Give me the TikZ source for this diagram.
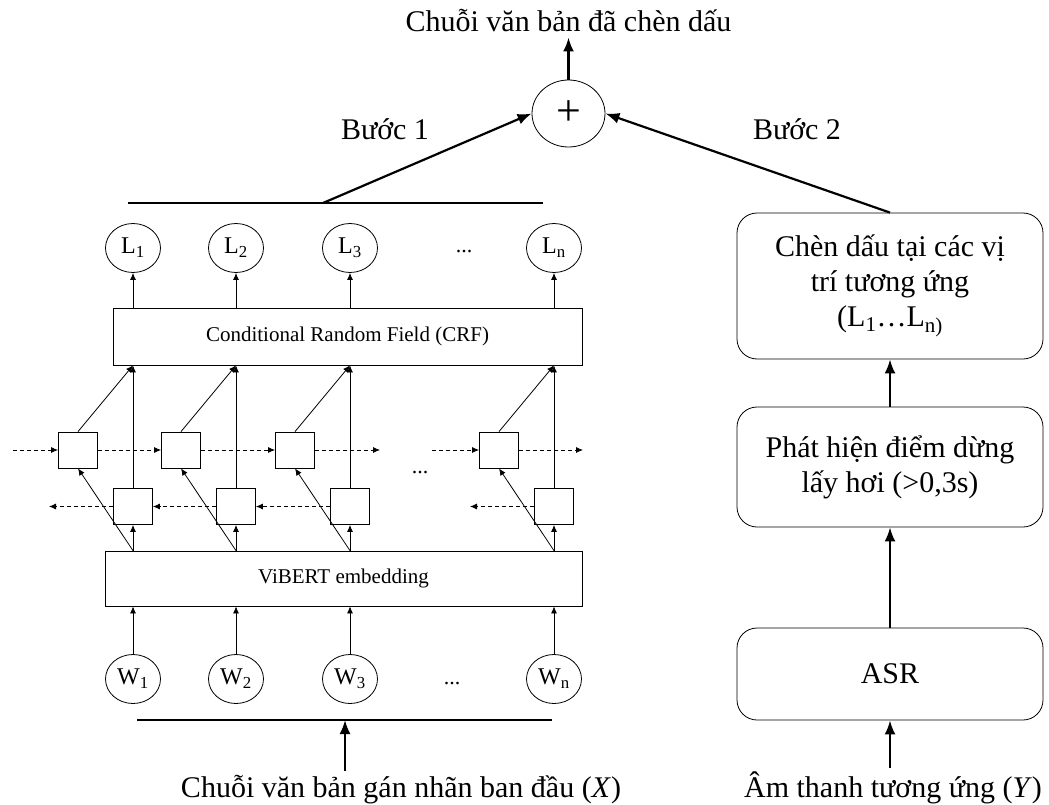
\documentclass[tikz,border=0pt]{standalone}
\usepackage{fontspec}
\setmainfont{Liberation Serif}
\usetikzlibrary{arrows, arrows.meta, shapes.geometric, positioning}

\begin{document}
\begin{tikzpicture}[x=1pt, y=-1pt,
				>={Latex[length=7pt,width=6pt]},   % small arrow tips
				font=\fontsize{30}{35}\selectfont,
				lab/.style={draw, ellipse, minimum width=55pt, minimum height=49pt, inner sep=0pt, line width=0.8pt, font=\fontsize{24}{26}\selectfont},
				cell/.style={draw, minimum width=39pt, minimum height=36pt, inner sep=0pt, line width=0.8pt},
				layer/.style={draw, inner sep=0pt, line width=0.8pt, font=\fontsize{21}{24}\selectfont},
				stepbox/.style={draw, rounded corners=20pt, minimum width=306pt, align=center, line width=0.8pt},
				wire/.style={line width=0.8pt, ->},
				rnn/.style={line width=0.8pt, ->, dash pattern=on 4pt off 3pt},
				big/.style={line width=2.2pt, -{Latex[length=14pt,width=11pt]}}]
				\useasboundingbox (0,0) rectangle (1049,805);
				% Ket qua
				\node[anchor=base, inner sep=5pt] (out) at (568.5,32) {Chuỗi văn bản đã chèn dấu};
				\node[draw, ellipse, minimum width=73pt, minimum height=67pt, inner sep=0pt, line width=0.8pt, font=\fontsize{44}{44}\selectfont] (sum) at (568.5,113.5) {+};
				\draw[big] (sum.north) -- (out.south);
				\node[anchor=base] (b1) at (385,140) {Bước 1};
				\node[anchor=base] (b2) at (797,140) {Bước 2};
				% Buoc 1: ViBERT + BiLSTM + CRF
				\coordinate (t0) at (128,203);
				\coordinate (t1) at (543,203);
				\coordinate (t2) at (323,203);
				\draw[line width=2pt] (t0) -- (t1);
				\draw[big] (t2) -- (sum.west);
				\node[layer, minimum width=469pt, minimum height=57pt] (crf) at (347.5,336.5) {Conditional Random Field (CRF)};
				\node[layer, minimum width=477pt, minimum height=55pt] (emb) at (343.5,578.5) {ViBERT embedding};
				\foreach \i/\x in {1/133,2/236,3/350,n/554}{
					\node[lab] (L\i) at (\x,248) {L\textsubscript{\i}};
					\node[lab] (W\i) at (\x,679) {W\textsubscript{\i}};
					\node[cell] (fw\i) at (\x-55,450) {};
					\node[cell] (bw\i) at (\x,506.5) {};
					\draw[wire] (crf.north -| L\i) -- (L\i);
					\draw[wire] (W\i) -- (emb.south -| W\i);
					\draw[wire] (emb.north -| W\i) -- (bw\i);
					\draw[wire] (emb.north -| W\i) -- (fw\i.south);
					\draw[wire] (bw\i) -- (crf.south -| L\i);
					\draw[wire] (fw\i.north) -- (crf.south -| L\i);
				}
				\node[font=\fontsize{22}{24}\selectfont] (ldots) at (464,252) {...};
				\node[font=\fontsize{22}{24}\selectfont] (wdots) at (452,684) {...};
				\node[font=\fontsize{22}{24}\selectfont] (fdots) at (420,473) {...};
				% chieu xuoi
				\coordinate (fin) at (13,450);
				\coordinate (fcut) at (380,450);
				\coordinate (fres) at (432,450);
				\coordinate (fout) at (583,450);
				\draw[rnn] (fin) -- (fw1);
				\draw[rnn] (fw1) -- (fw2);
				\draw[rnn] (fw2) -- (fw3);
				\draw[rnn] (fw3) -- (fcut);
				\draw[rnn] (fres) -- (fwn);
				\draw[rnn] (fwn) -- (fout);
				% chieu nguoc
				\coordinate (bout) at (49,506.5);
				\coordinate (bres) at (470,506.5);
				\draw[rnn] (bw1) -- (bout);
				\draw[rnn] (bw2) -- (bw1);
				\draw[rnn] (bw3) -- (bw2);
				\draw[rnn] (bwn) -- (bres);
				% dau vao X
				\coordinate (s0) at (137,720);
				\coordinate (s1) at (552,720);
				\coordinate (s2) at (345,720);
				\draw[line width=2pt] (s0) -- (s1);
				\node[anchor=base] (inX) at (401,797) {Chuỗi văn bản gán nhãn ban đầu (\textit{X})};
				\draw[big] (inX.north -| s2) -- (s2);
				% Buoc 2
				\node[stepbox, minimum height=146pt] (ins) at (890,286) {Chèn dấu tại các vị\\trí tương ứng\\(L\textsubscript{1}\ldots L\textsubscript{n)}};
				\node[stepbox, minimum height=120pt] (pause) at (890,467) {Phát hiện điểm dừng\\lấy hơi (>0,3s)};
				\node[stepbox, minimum height=92pt] (asr) at (890,674) {ASR};
				\node[anchor=base] (inY) at (893,797) {Âm thanh tương ứng (\textit{Y})};
				\draw[big] (inY.north -| asr) -- (asr);
				\draw[big] (asr) -- (pause);
				\draw[big] (pause) -- (ins);
				\draw[big] (ins.north) -- (sum.east);
			\end{tikzpicture}
\end{document}
